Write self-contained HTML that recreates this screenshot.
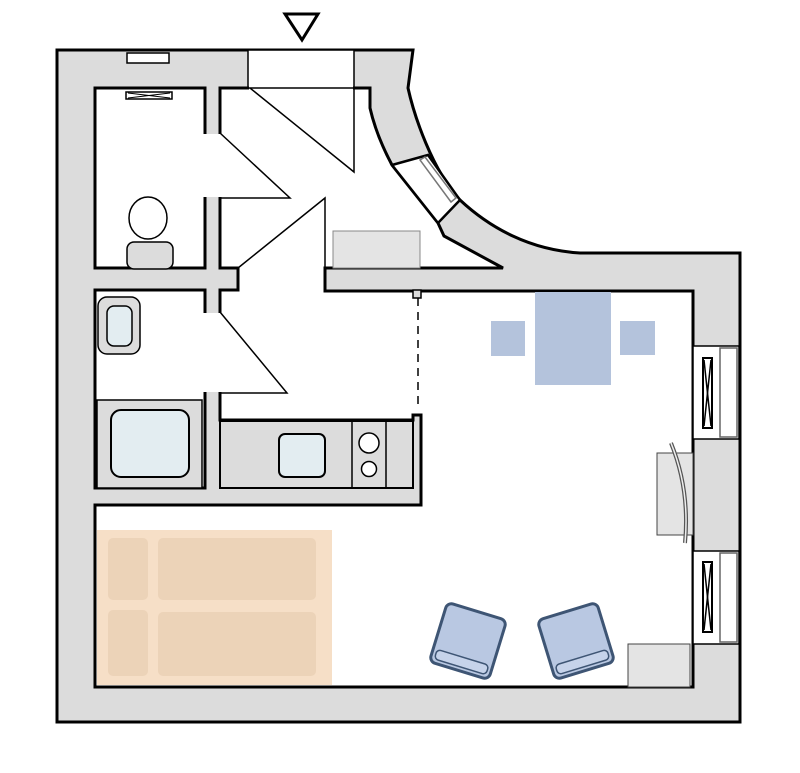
<!DOCTYPE html>
<html><head><meta charset="utf-8"><style>html,body{margin:0;padding:0;background:#fff}svg{display:block}</style></head>
<body>
<svg width="800" height="773" viewBox="0 0 800 773" xmlns="http://www.w3.org/2000/svg">
<!-- entrance marker -->
<polygon points="285,14 318,14 302,40" fill="#fff" stroke="#000" stroke-width="3"/>
<!-- outer walls -->
<path d="M57,50 H413 L408,88 C414,115 432,170 460,200 C490,228 530,250 580,253 H740 V722 H57 Z" fill="#dcdcdc" stroke="#000" stroke-width="3"/>
<!-- entrance opening -->
<rect x="248" y="50" width="106" height="38" fill="#fff" stroke="#000" stroke-width="1.5"/>
<!-- toilet -->
<rect x="95" y="88" width="110" height="180" fill="#fff" stroke="#000" stroke-width="3"/>
<!-- bathroom -->
<rect x="95" y="290" width="110" height="198" fill="#fff" stroke="#000" stroke-width="3"/>
<!-- main open area -->
<path d="M220,88 H370 V108 C375,130 384,150 392,165 L438,223 L444,236 L503,268 H325 V291 H693 V687 H95 V505 H421 V415 H413 V420 H220 V290 H238 V268 H220 Z" fill="#fff" stroke="#000" stroke-width="3"/>
<!-- door openings -->
<rect x="203" y="134" width="19" height="63" fill="#fff"/>
<rect x="203" y="313" width="19" height="79" fill="#fff"/>
<rect x="249" y="86" width="104" height="4" fill="#fff"/>
<line x1="249" y1="88" x2="354" y2="88" stroke="#000" stroke-width="1.5"/>
<!-- door swings -->
<g stroke="#000" stroke-width="1.5" fill="none">
<polyline points="250,88 354,172 354,88"/>
<polyline points="220,133 290,198 220,198"/>
<polyline points="238,268 325,198 325,268"/>
<polyline points="220,312 287,393 220,393"/>
<line x1="418" y1="298" x2="418" y2="410" stroke-dasharray="8,6"/>
</g>
<!-- wall stub near dashed line -->
<rect x="413" y="290" width="8" height="8" fill="#dcdcdc" stroke="#000" stroke-width="1.5"/>
<!-- curved wall window -->
<polygon points="392,165 428,155 460,200 438,223" fill="#fff" stroke="#000" stroke-width="2.5"/>
<polygon points="420,160 425,157 456,198 451,202" fill="#fff" stroke="#777" stroke-width="1.5"/>
<!-- toilet window -->
<rect x="127" y="53" width="42" height="10" fill="#fff" stroke="#000" stroke-width="1.5"/>
<rect x="126" y="92" width="46" height="7" fill="#fff" stroke="#000" stroke-width="1.5"/>
<line x1="128" y1="93" x2="170" y2="98" stroke="#000"/><line x1="128" y1="98" x2="170" y2="93" stroke="#000"/>
<!-- toilet -->
<ellipse cx="148" cy="218" rx="19" ry="21" fill="#fff" stroke="#000" stroke-width="1.5"/>
<rect x="127" y="242" width="46" height="27" rx="7" fill="#dcdcdc" stroke="#000" stroke-width="1.5"/>
<!-- hall cabinet -->
<rect x="333" y="231" width="87" height="37" fill="#e4e4e4" stroke="#888" stroke-width="1"/>
<!-- bathroom sink -->
<rect x="98" y="297" width="42" height="57" rx="9" fill="#dcdcdc" stroke="#000" stroke-width="1.5"/>
<rect x="107" y="306" width="25" height="40" rx="7" fill="#e3edf1" stroke="#000" stroke-width="1.5"/>
<!-- bathtub -->
<rect x="97" y="400" width="105" height="88" fill="#dcdcdc" stroke="#000" stroke-width="1.5"/>
<rect x="111" y="410" width="78" height="67" rx="10" fill="#e3edf1" stroke="#000" stroke-width="2"/>
<!-- kitchen counter -->
<rect x="220" y="421" width="193" height="67" fill="#dcdcdc" stroke="#000" stroke-width="2"/>
<line x1="352" y1="421" x2="352" y2="488" stroke="#000" stroke-width="1.5"/>
<line x1="386" y1="421" x2="386" y2="488" stroke="#000" stroke-width="1.5"/>
<rect x="279" y="434" width="46" height="43" rx="6" fill="#e3edf1" stroke="#000" stroke-width="2"/>
<circle cx="369" cy="443" r="10" fill="#fff" stroke="#000" stroke-width="1.5"/>
<circle cx="369" cy="469" r="7.5" fill="#fff" stroke="#000" stroke-width="1.5"/>
<!-- dining -->
<rect x="535" y="292" width="76" height="93" fill="#b4c3dc"/>
<rect x="491" y="321" width="34" height="35" fill="#b4c3dc"/>
<rect x="620" y="321" width="35" height="34" fill="#b4c3dc"/>
<!-- right windows -->
<g stroke="#000" stroke-width="1.5">
<rect x="693" y="346" width="46" height="93" fill="#fff"/>
<rect x="703" y="358" width="9" height="70" fill="#fff" stroke-width="2"/>
<line x1="704" y1="360" x2="711" y2="426"/><line x1="711" y1="360" x2="704" y2="426"/>
<rect x="720" y="348" width="17" height="89" fill="#fff" stroke="#666"/>
<rect x="693" y="551" width="46" height="93" fill="#fff"/>
<rect x="703" y="562" width="9" height="70" fill="#fff" stroke-width="2"/>
<line x1="704" y1="564" x2="711" y2="630"/><line x1="711" y1="564" x2="704" y2="630"/>
<rect x="720" y="553" width="17" height="89" fill="#fff" stroke="#666"/>
</g>
<!-- desk -->
<rect x="657" y="453" width="36" height="82" fill="#e4e4e4" stroke="#444" stroke-width="1"/>
<path d="M671,443 Q690,490 685,543" fill="none" stroke="#555" stroke-width="4"/>
<path d="M671,443 Q690,490 685,543" fill="none" stroke="#eee" stroke-width="1.5"/>
<!-- corner cabinet -->
<rect x="628" y="644" width="62" height="43" fill="#e4e4e4" stroke="#444" stroke-width="1"/>
<!-- armchairs -->
<g transform="translate(468,641) rotate(17)">
<rect x="-31" y="-31" width="62" height="62" rx="6" fill="#b9c8e2" stroke="#3e5574" stroke-width="3"/>
<rect x="-27" y="17" width="54" height="10" rx="4" fill="#c6d3ea" stroke="#3e5574" stroke-width="1.5"/>
</g>
<g transform="translate(576,641) rotate(-17)">
<rect x="-31" y="-31" width="62" height="62" rx="6" fill="#b9c8e2" stroke="#3e5574" stroke-width="3"/>
<rect x="-27" y="17" width="54" height="10" rx="4" fill="#c6d3ea" stroke="#3e5574" stroke-width="1.5"/>
</g>
<!-- bed -->
<rect x="97" y="530" width="235" height="155" fill="#f6dfc7"/>
<rect x="108" y="538" width="40" height="62" rx="5" fill="#ecd3b8"/>
<rect x="108" y="610" width="40" height="66" rx="5" fill="#ecd3b8"/>
<rect x="158" y="538" width="158" height="62" rx="5" fill="#ecd3b8"/>
<rect x="158" y="612" width="158" height="64" rx="5" fill="#ecd3b8"/>
</svg>
</body></html>
